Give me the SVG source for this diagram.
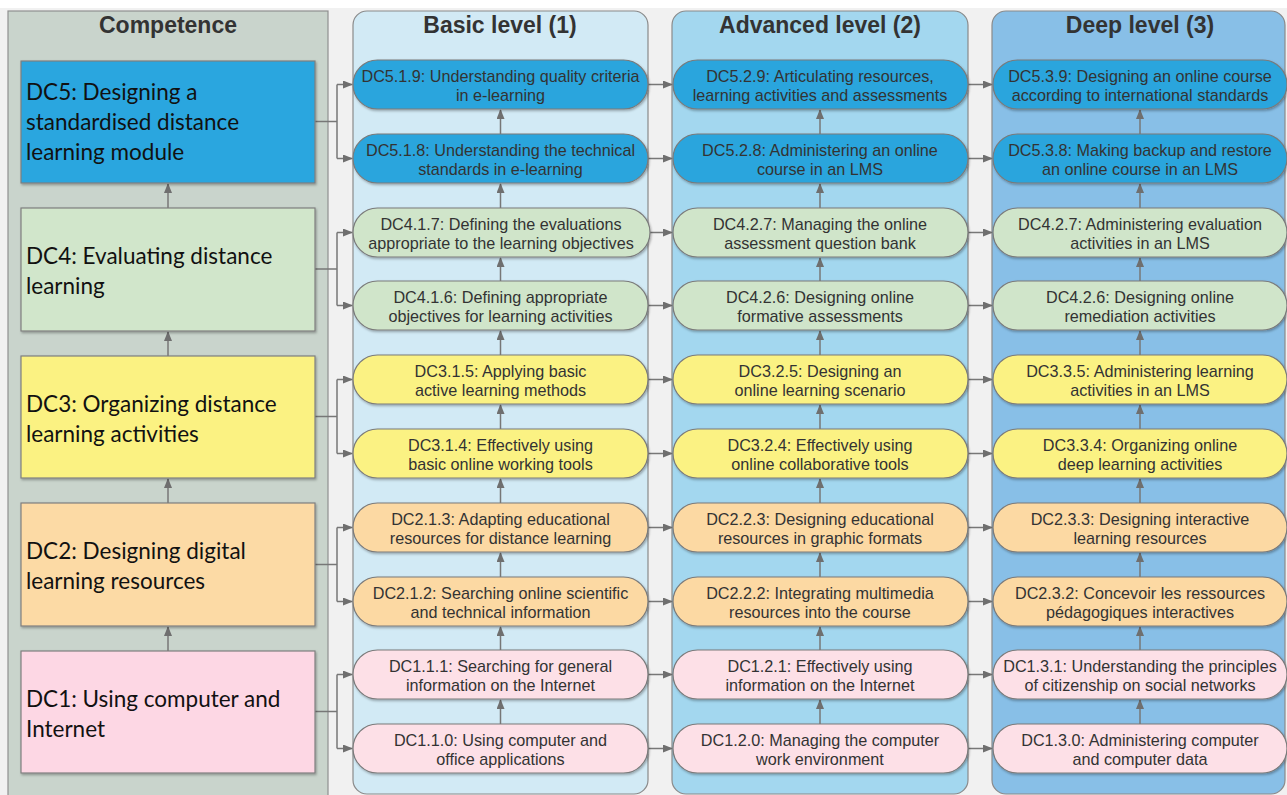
<svg xmlns="http://www.w3.org/2000/svg" width="1287" height="795" viewBox="0 0 1287 795">
<defs>
<style>
.bg{fill:#f1f1f1}
.panel{fill:#c9d4cc;stroke:#8f8f8f;stroke-width:1.2}
.col{stroke:#8a8a8a;stroke-width:1.2}
.c1{fill:#d2eaf5}.c2{fill:#a3d7ef}.c3{fill:#88bfe7}
.hdr{font-family:"Liberation Sans",Arial,sans-serif;font-weight:bold;font-size:23px;fill:#333;text-anchor:middle}
.box{stroke:#7f7f7f;stroke-width:1.2;filter:url(#sh)}
.node{stroke:#7a7a7a;stroke-width:1.2;filter:url(#sh)}
.b5{fill:#29a6df}.b4{fill:#d1e6cb}.b3{fill:#fbf282}.b2{fill:#fcdaa5}.b1{fill:#fdd7e4}
.n5{fill:#2aa5dd}.n4{fill:#d0e5ca}.n3{fill:#fbf283}.n2{fill:#fcd9a3}.n1{fill:#fde0e7}
.bt{font-family:Lato,"Liberation Sans",sans-serif;font-size:22.5px;fill:#111}
.nt{font-family:"Liberation Sans",Arial,sans-serif;font-size:16.2px;fill:#333;text-anchor:middle}
.ln{fill:none;stroke:#777;stroke-width:1.5}
.ar{fill:none;stroke:#777;stroke-width:1.5;marker-end:url(#ah)}
</style>
<marker id="ah" markerUnits="userSpaceOnUse" markerWidth="10" markerHeight="8" refX="9" refY="4" orient="auto">
<path d="M0,0 L10,4 L0,8 z" fill="#6f6f6f"/>
</marker>
<filter id="sh" x="-5%" y="-10%" width="110%" height="130%">
<feDropShadow dx="1" dy="1.5" stdDeviation="1" flood-color="#000" flood-opacity="0.3"/>
</filter>
</defs>

<rect class="bg" x="0" y="8" width="1287" height="787"/>

<g id="panels">
<rect class="panel" x="8" y="11" width="320" height="790"/>
<rect class="col c1" x="353" y="11" width="295" height="783" rx="14"/>
<rect class="col c2" x="672" y="11" width="296" height="783" rx="14"/>
<rect class="col c3" x="992" y="11" width="293" height="783" rx="14"/>
<text class="hdr" x="168" y="33">Competence</text>
<text class="hdr" x="500" y="33">Basic level (1)</text>
<text class="hdr" x="820" y="33">Advanced level (2)</text>
<text class="hdr" x="1140" y="33">Deep level (3)</text>
</g>

<g id="connectors">
<path class="ar" d="M168,208 V184"/>
<path class="ar" d="M168,356 V332"/>
<path class="ar" d="M168,503 V479"/>
<path class="ar" d="M168,651 V627"/>
<path class="ln" d="M315,121.5 H337 M337,84.5 V158.5"/>
<path class="ar" d="M337,84.5 H352"/><path class="ar" d="M337,158.5 H352"/>
<path class="ln" d="M315,269 H337 M337,232.5 V305.5"/>
<path class="ar" d="M337,232.5 H352"/><path class="ar" d="M337,305.5 H352"/>
<path class="ln" d="M315,416.5 H337 M337,379.5 V453.5"/>
<path class="ar" d="M337,379.5 H352"/><path class="ar" d="M337,453.5 H352"/>
<path class="ln" d="M315,564.5 H337 M337,527.5 V601.5"/>
<path class="ar" d="M337,527.5 H352"/><path class="ar" d="M337,601.5 H352"/>
<path class="ln" d="M315,711.5 H337 M337,674.5 V748.5"/>
<path class="ar" d="M337,674.5 H352"/><path class="ar" d="M337,748.5 H352"/>
<path class="ar" d="M648,84.5 H672"/><path class="ar" d="M968,84.5 H992"/>
<path class="ar" d="M648,158.5 H672"/><path class="ar" d="M968,158.5 H992"/>
<path class="ar" d="M648,232.5 H672"/><path class="ar" d="M968,232.5 H992"/>
<path class="ar" d="M648,305.5 H672"/><path class="ar" d="M968,305.5 H992"/>
<path class="ar" d="M648,379.5 H672"/><path class="ar" d="M968,379.5 H992"/>
<path class="ar" d="M648,453.5 H672"/><path class="ar" d="M968,453.5 H992"/>
<path class="ar" d="M648,527.5 H672"/><path class="ar" d="M968,527.5 H992"/>
<path class="ar" d="M648,601.5 H672"/><path class="ar" d="M968,601.5 H992"/>
<path class="ar" d="M648,674.5 H672"/><path class="ar" d="M968,674.5 H992"/>
<path class="ar" d="M648,748.5 H672"/><path class="ar" d="M968,748.5 H992"/>
<path class="ar" d="M500.5,134 V110"/><path class="ar" d="M820,134 V110"/><path class="ar" d="M1140,134 V110"/>
<path class="ar" d="M500.5,208 V184"/><path class="ar" d="M820,208 V184"/><path class="ar" d="M1140,208 V184"/>
<path class="ar" d="M500.5,281 V258"/><path class="ar" d="M820,281 V258"/><path class="ar" d="M1140,281 V258"/>
<path class="ar" d="M500.5,355 V331"/><path class="ar" d="M820,355 V331"/><path class="ar" d="M1140,355 V331"/>
<path class="ar" d="M500.5,429 V405"/><path class="ar" d="M820,429 V405"/><path class="ar" d="M1140,429 V405"/>
<path class="ar" d="M500.5,503 V479"/><path class="ar" d="M820,503 V479"/><path class="ar" d="M1140,503 V479"/>
<path class="ar" d="M500.5,577 V553"/><path class="ar" d="M820,577 V553"/><path class="ar" d="M1140,577 V553"/>
<path class="ar" d="M500.5,650 V627"/><path class="ar" d="M820,650 V627"/><path class="ar" d="M1140,650 V627"/>
<path class="ar" d="M500.5,724 V700"/><path class="ar" d="M820,724 V700"/><path class="ar" d="M1140,724 V700"/>
</g>

<g id="DC5"><rect class="box b5" x="21" y="61" width="294" height="122"/>
<text class="bt" x="26" y="100">DC5: Designing a</text><text class="bt" x="26" y="130">standardised distance</text><text class="bt" x="26" y="160">learning module</text></g>
<g id="DC4"><rect class="box b4" x="21" y="208" width="294" height="123"/>
<text class="bt" x="26" y="264">DC4: Evaluating distance</text><text class="bt" x="26" y="294">learning</text></g>
<g id="DC3"><rect class="box b3" x="21" y="356" width="294" height="122"/>
<text class="bt" x="26" y="412">DC3: Organizing distance</text><text class="bt" x="26" y="442">learning activities</text></g>
<g id="DC2"><rect class="box b2" x="21" y="503" width="294" height="123"/>
<text class="bt" x="26" y="559">DC2: Designing digital</text><text class="bt" x="26" y="589">learning resources</text></g>
<g id="DC1"><rect class="box b1" x="21" y="651" width="294" height="122"/>
<text class="bt" x="26" y="707">DC1: Using computer and</text><text class="bt" x="26" y="737">Internet</text></g>

<g id="DC5.1.9"><rect class="node n5" x="353" y="60" width="295" height="49" rx="24.5"/><text class="nt" x="500.5" y="82">DC5.1.9: Understanding quality criteria</text><text class="nt" x="500.5" y="101">in e-learning</text></g>
<g id="DC5.1.8"><rect class="node n5" x="353" y="134" width="295" height="49" rx="24.5"/><text class="nt" x="500.5" y="156">DC5.1.8: Understanding the technical</text><text class="nt" x="500.5" y="175">standards in e-learning</text></g>
<g id="DC4.1.7"><rect class="node n4" x="353" y="208" width="297" height="49" rx="24.5"/><text class="nt" x="501" y="230">DC4.1.7: Defining the evaluations</text><text class="nt" x="501" y="249">appropriate to the learning objectives</text></g>
<g id="DC4.1.6"><rect class="node n4" x="353" y="281" width="295" height="49" rx="24.5"/><text class="nt" x="500.5" y="303">DC4.1.6: Defining appropriate</text><text class="nt" x="500.5" y="322">objectives for learning activities</text></g>
<g id="DC3.1.5"><rect class="node n3" x="353" y="355" width="295" height="49" rx="24.5"/><text class="nt" x="500.5" y="377">DC3.1.5: Applying basic</text><text class="nt" x="500.5" y="396">active learning methods</text></g>
<g id="DC3.1.4"><rect class="node n3" x="353" y="429" width="295" height="49" rx="24.5"/><text class="nt" x="500.5" y="451">DC3.1.4: Effectively using</text><text class="nt" x="500.5" y="470">basic online working tools</text></g>
<g id="DC2.1.3"><rect class="node n2" x="353" y="503" width="295" height="49" rx="24.5"/><text class="nt" x="500.5" y="525">DC2.1.3: Adapting educational</text><text class="nt" x="500.5" y="544">resources for distance learning</text></g>
<g id="DC2.1.2"><rect class="node n2" x="353" y="577" width="295" height="49" rx="24.5"/><text class="nt" x="500.5" y="599">DC2.1.2: Searching online scientific</text><text class="nt" x="500.5" y="618">and technical information</text></g>
<g id="DC1.1.1"><rect class="node n1" x="353" y="650" width="295" height="49" rx="24.5"/><text class="nt" x="500.5" y="672">DC1.1.1: Searching for general</text><text class="nt" x="500.5" y="691">information on the Internet</text></g>
<g id="DC1.1.0"><rect class="node n1" x="353" y="724" width="295" height="49" rx="24.5"/><text class="nt" x="500.5" y="746">DC1.1.0: Using computer and</text><text class="nt" x="500.5" y="765">office applications</text></g>

<g id="DC5.2.9"><rect class="node n5" x="673" y="60" width="295" height="49" rx="24.5"/><text class="nt" x="820" y="82">DC5.2.9: Articulating resources,</text><text class="nt" x="820" y="101">learning activities and assessments</text></g>
<g id="DC5.2.8"><rect class="node n5" x="673" y="134" width="295" height="49" rx="24.5"/><text class="nt" x="820" y="156">DC5.2.8: Administering an online</text><text class="nt" x="820" y="175">course in an LMS</text></g>
<g id="DC4.2.7"><rect class="node n4" x="673" y="208" width="295" height="49" rx="24.5"/><text class="nt" x="820" y="230">DC4.2.7: Managing the online</text><text class="nt" x="820" y="249">assessment question bank</text></g>
<g id="DC4.2.6"><rect class="node n4" x="673" y="281" width="295" height="49" rx="24.5"/><text class="nt" x="820" y="303">DC4.2.6: Designing online</text><text class="nt" x="820" y="322">formative assessments</text></g>
<g id="DC3.2.5"><rect class="node n3" x="673" y="355" width="295" height="49" rx="24.5"/><text class="nt" x="820" y="377">DC3.2.5: Designing an</text><text class="nt" x="820" y="396">online learning scenario</text></g>
<g id="DC3.2.4"><rect class="node n3" x="673" y="429" width="295" height="49" rx="24.5"/><text class="nt" x="820" y="451">DC3.2.4: Effectively using</text><text class="nt" x="820" y="470">online collaborative tools</text></g>
<g id="DC2.2.3"><rect class="node n2" x="673" y="503" width="295" height="49" rx="24.5"/><text class="nt" x="820" y="525">DC2.2.3: Designing educational</text><text class="nt" x="820" y="544">resources in graphic formats</text></g>
<g id="DC2.2.2"><rect class="node n2" x="673" y="577" width="295" height="49" rx="24.5"/><text class="nt" x="820" y="599">DC2.2.2: Integrating multimedia</text><text class="nt" x="820" y="618">resources into the course</text></g>
<g id="DC1.2.1"><rect class="node n1" x="673" y="650" width="295" height="49" rx="24.5"/><text class="nt" x="820" y="672">DC1.2.1: Effectively using</text><text class="nt" x="820" y="691">information on the Internet</text></g>
<g id="DC1.2.0"><rect class="node n1" x="673" y="724" width="295" height="49" rx="24.5"/><text class="nt" x="820" y="746">DC1.2.0: Managing the computer</text><text class="nt" x="820" y="765">work environment</text></g>

<g id="DC5.3.9"><rect class="node n5" x="993" y="60" width="294" height="49" rx="24.5"/><text class="nt" x="1140" y="82">DC5.3.9: Designing an online course</text><text class="nt" x="1140" y="101">according to international standards</text></g>
<g id="DC5.3.8"><rect class="node n5" x="993" y="134" width="294" height="49" rx="24.5"/><text class="nt" x="1140" y="156">DC5.3.8: Making backup and restore</text><text class="nt" x="1140" y="175">an online course in an LMS</text></g>
<g id="DC4.3.7"><rect class="node n4" x="993" y="208" width="294" height="49" rx="24.5"/><text class="nt" x="1140" y="230">DC4.2.7: Administering evaluation</text><text class="nt" x="1140" y="249">activities in an LMS</text></g>
<g id="DC4.3.6"><rect class="node n4" x="993" y="281" width="294" height="49" rx="24.5"/><text class="nt" x="1140" y="303">DC4.2.6: Designing online</text><text class="nt" x="1140" y="322">remediation activities</text></g>
<g id="DC3.3.5"><rect class="node n3" x="993" y="355" width="294" height="49" rx="24.5"/><text class="nt" x="1140" y="377">DC3.3.5: Administering learning</text><text class="nt" x="1140" y="396">activities in an LMS</text></g>
<g id="DC3.3.4"><rect class="node n3" x="993" y="429" width="294" height="49" rx="24.5"/><text class="nt" x="1140" y="451">DC3.3.4: Organizing online</text><text class="nt" x="1140" y="470">deep learning activities</text></g>
<g id="DC2.3.3"><rect class="node n2" x="993" y="503" width="294" height="49" rx="24.5"/><text class="nt" x="1140" y="525">DC2.3.3: Designing interactive</text><text class="nt" x="1140" y="544">learning resources</text></g>
<g id="DC2.3.2"><rect class="node n2" x="993" y="577" width="294" height="49" rx="24.5"/><text class="nt" x="1140" y="599">DC2.3.2: Concevoir les ressources</text><text class="nt" x="1140" y="618">pédagogiques interactives</text></g>
<g id="DC1.3.1"><rect class="node n1" x="993" y="650" width="294" height="49" rx="24.5"/><text class="nt" x="1140" y="672">DC1.3.1: Understanding the principles</text><text class="nt" x="1140" y="691">of citizenship on social networks</text></g>
<g id="DC1.3.0"><rect class="node n1" x="993" y="724" width="294" height="49" rx="24.5"/><text class="nt" x="1140" y="746">DC1.3.0: Administering computer</text><text class="nt" x="1140" y="765">and computer data</text></g>
</svg>
